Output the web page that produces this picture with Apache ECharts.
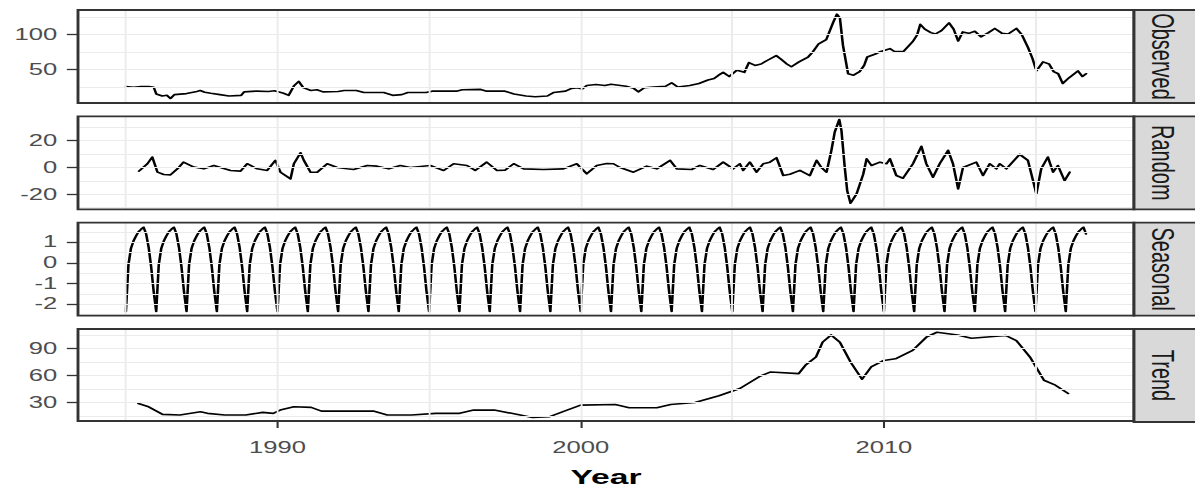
<!DOCTYPE html>
<html>
<head>
<meta charset="utf-8">
<script src="https://cdn.jsdelivr.net/npm/echarts@6/dist/echarts.min.js"></script>
<style>
html, body { margin: 0; padding: 0; background: #fff; overflow: hidden; }
/* the reference picture is stretched sideways, so the chart is drawn narrow and widened */
#chart { position: absolute; left: 0; top: 0; width: 747px; height: 488px; transform: scaleX(1.6); transform-origin: 0 0; }
</style>
</head>
<body>
<div id="chart"></div>
<script>
// observed series [year, value]
var observed = [
    [1985.0, 25.5], [1985.25, 24.5], [1985.5, 25.5], [1985.75, 25.5], [1985.92, 24.5], [1986.0, 15], [1986.2, 12],
    [1986.35, 13], [1986.47, 8.5], [1986.6, 14], [1987.0, 15.5], [1987.3, 18], [1987.45, 20], [1987.6, 17.5],
    [1987.8, 16], [1988.1, 14], [1988.4, 12], [1988.8, 13], [1988.9, 18], [1989.3, 19], [1989.7, 18.5],
    [1989.9, 19.5], [1990.2, 16], [1990.37, 13], [1990.55, 27], [1990.7, 33], [1990.85, 24], [1991.1, 20],
    [1991.3, 21], [1991.5, 18], [1992.0, 18.5], [1992.2, 20], [1992.6, 20], [1992.85, 17], [1993.5, 17],
    [1993.8, 13], [1994.1, 14], [1994.3, 17], [1994.9, 17], [1995.1, 19], [1995.9, 19], [1996.1, 21],
    [1996.7, 21.5], [1996.9, 19], [1997.5, 19], [1997.8, 15], [1998.2, 12], [1998.5, 11], [1998.9, 12],
    [1999.1, 17], [1999.5, 19], [1999.7, 23], [1999.9, 24], [2000.05, 22], [2000.2, 27], [2000.5, 28.5],
    [2000.8, 27], [2001.0, 29], [2001.5, 26], [2001.75, 23], [2001.9, 18], [2002.1, 24], [2002.4, 25],
    [2002.8, 26], [2003.0, 31], [2003.2, 25], [2003.4, 26], [2003.6, 27], [2003.9, 30], [2004.2, 35],
    [2004.4, 37], [2004.55, 42], [2004.7, 46], [2004.9, 40], [2005.15, 49], [2005.4, 46], [2005.55, 60],
    [2005.75, 56], [2005.95, 58], [2006.15, 63], [2006.45, 70], [2006.6, 65], [2006.8, 58], [2006.95, 54],
    [2007.2, 61], [2007.5, 68], [2007.65, 75], [2007.85, 87], [2008.1, 93], [2008.33, 118], [2008.45, 129.5],
    [2008.55, 124], [2008.65, 85], [2008.82, 44], [2009.0, 42], [2009.2, 47], [2009.35, 56], [2009.45, 68],
    [2009.7, 72], [2009.9, 76], [2010.2, 80], [2010.35, 76], [2010.65, 76], [2010.95, 90], [2011.1, 100],
    [2011.2, 115], [2011.35, 108], [2011.55, 103], [2011.7, 101], [2011.9, 106], [2012.15, 117], [2012.3, 108],
    [2012.45, 91], [2012.6, 104], [2012.8, 102], [2013.0, 105], [2013.2, 97], [2013.45, 103], [2013.66, 109],
    [2013.9, 102], [2014.1, 101], [2014.37, 109], [2014.55, 100], [2014.75, 82], [2014.9, 66], [2015.03, 48],
    [2015.25, 61], [2015.45, 58], [2015.6, 47], [2015.75, 44], [2015.9, 30], [2016.1, 38], [2016.4, 48],
    [2016.55, 40], [2016.67, 44]
];

// random (remainder) series [year, value]
var random = [
    [1985.43, -2.7], [1985.71, 2.8], [1985.87, 7.8], [1986.04, -3.5], [1986.25, -5.2], [1986.47, -5.5],
    [1986.7, -1], [1986.9, 4], [1987.24, 0.3], [1987.57, -1], [1987.9, 1.5], [1988.12, 0], [1988.45, -2.2],
    [1988.78, -2.7], [1989.0, 2.8], [1989.33, -1], [1989.66, -2.2], [1989.93, 5.3], [1990.1, -3.5],
    [1990.43, -8.5], [1990.54, 2.8], [1990.76, 11], [1990.87, 5.3], [1991.09, -3.5], [1991.31, -3.5],
    [1991.64, 2.8], [1991.97, 0], [1992.3, -1], [1992.51, -1.5], [1992.96, 1.5], [1993.28, 1], [1993.67, -1],
    [1994.05, 1.5], [1994.38, 0], [1995.04, 1.5], [1995.48, -2.2], [1995.81, 2.8], [1996.25, 1.5],
    [1996.52, -2.2], [1996.9, 4], [1997.24, -2.2], [1997.5, -2], [1997.79, 2.8], [1998.12, -1],
    [1998.77, -1.5], [1999.43, -1], [1999.87, 2.8], [2000.2, -4.7], [2000.53, 1.5], [2000.86, 3],
    [2001.08, 2.8], [2001.3, 0], [2001.74, -3.5], [2002.18, 1], [2002.51, -1], [2002.95, 5.3], [2003.17, -1],
    [2003.66, -1.5], [2003.93, 1.5], [2004.37, -1.5], [2004.7, 4], [2005.03, -1], [2005.25, 2.8],
    [2005.36, -2.2], [2005.58, 4], [2005.8, -3.5], [2006.02, 2.8], [2006.24, 4], [2006.46, 7.3], [2006.68, -6],
    [2006.9, -5], [2007.23, -2.2], [2007.56, -6], [2007.78, 5.3], [2007.94, 0], [2008.11, -3.5],
    [2008.27, 12.8], [2008.38, 26.5], [2008.53, 35.8], [2008.6, 27.8], [2008.71, 0], [2008.79, -17.2],
    [2008.9, -26.7], [2009.1, -19.7], [2009.32, -5], [2009.43, 6.5], [2009.59, 1.5], [2009.87, 4],
    [2010.09, 2.8], [2010.2, 6.5], [2010.41, -6], [2010.63, -8], [2010.96, 2.8], [2011.24, 15.8],
    [2011.4, 2.8], [2011.62, -7.2], [2011.84, 2.8], [2012.12, 12.8], [2012.28, 2.8], [2012.45, -16],
    [2012.61, 0], [2013.05, 4], [2013.27, -6], [2013.49, 2.8], [2013.71, -1], [2013.82, 2.8], [2014.04, -1],
    [2014.48, 9.8], [2014.75, 5.3], [2014.92, -9.8], [2015.03, -19.7], [2015.19, -1], [2015.41, 7.8],
    [2015.58, -3.5], [2015.74, 1.5], [2015.96, -9.8], [2016.13, -3.5]
];

// seasonal component: the same 12 monthly values (Jan..Dec) every year
var seasonalPattern = [-2.35, -0.1, 0.7, 1.05, 1.3, 1.5, 1.62, 1.72, 1.4, 0.75, -0.2, -1.4];
var seasonalFirstYear = 1985;
var seasonalMonths = 381; // Jan 1985 .. Sep 2016

// trend series [year, value]
var trend = [
    [1985.41, 28.9], [1985.75, 25.2], [1986.21, 16.8], [1986.78, 16], [1987.46, 19.7], [1987.69, 17.9],
    [1988.26, 16], [1988.95, 16], [1989.51, 19], [1989.86, 17.9], [1990.09, 21.5], [1990.54, 25.2],
    [1991.11, 24.5], [1991.45, 20.4], [1993.16, 20.4], [1993.62, 16], [1994.42, 16], [1995.22, 17.9],
    [1996.01, 17.9], [1996.47, 21.5], [1997.15, 21.5], [1997.72, 17.9], [1998.41, 13.4], [1998.98, 14.2],
    [1999.55, 21.5], [2000.0, 27], [2001.14, 27.8], [2001.6, 24.1], [2002.51, 24.1], [2002.97, 27.8],
    [2003.77, 30], [2004.56, 37.4], [2005.25, 45.5], [2005.93, 59.4], [2006.27, 63.9], [2007.19, 62],
    [2007.41, 71.2], [2007.76, 80.4], [2007.98, 97], [2008.26, 105], [2008.55, 97], [2008.9, 75],
    [2009.28, 55.8], [2009.58, 69.4], [2010.0, 76.7], [2010.38, 78.5], [2010.95, 87.8], [2011.4, 102.5],
    [2011.75, 108], [2012.43, 105], [2012.89, 101.4], [2014.03, 104.3], [2014.37, 98.8], [2014.82, 80.4],
    [2015.28, 54.7], [2015.62, 49.9], [2016.08, 40]
];

// tick labels and grid line values
var yearTicks = [1990, 2000, 2010];
var yearGrid = [1985, 1990, 1995, 2000, 2005, 2010, 2015];
var obsTicks = [50, 100];
var obsGrid = [25, 50, 75, 100, 125];
var randomTicks = [-20, 0, 20];
var randomGrid = [-30, -20, -10, 0, 10, 20, 30];
var seasonalTicks = [-2, -1, 0, 1];
var seasonalGrid = [-2.5, -2, -1.5, -1, -0.5, 0, 0.5, 1, 1.5];
var trendTicks = [30, 60, 90];
var trendGrid = [15, 30, 45, 60, 75, 90, 105];

var seasonal = [];
for (var k = 0; k < seasonalMonths; k++) {
    seasonal.push([seasonalFirstYear + k / 12, seasonalPattern[k % 12]]);
}

var panels = [
    { name: "Observed", data: observed, min: 2, max: 135.5, ticks: obsTicks, grid: obsGrid },
    { name: "Random", data: random, min: -31.2, max: 38.2, ticks: randomTicks, grid: randomGrid },
    { name: "Seasonal", data: seasonal, min: -2.56, max: 1.94, ticks: seasonalTicks, grid: seasonalGrid },
    { name: "Trend", data: trend, min: 9.4, max: 111.6, ticks: trendTicks, grid: trendGrid },
];

var panelLeft = 48.75;
var panelWidth = 660;
var panelHeight = 93;
var panelTops = [10, 116.3, 222.7, 329];
var labelFont = { color: "#4D4D4D", fontSize: 16, fontFamily: "Liberation Sans" };
var plainNumber = function (v) { return String(v); };

var option = { animation: false, backgroundColor: "#fff", grid: [], xAxis: [], yAxis: [], series: [], graphic: [] };

panels.forEach(function (p, i) {
    var last = i === panels.length - 1;
    option.grid.push({
        left: panelLeft, top: panelTops[i], width: panelWidth, height: panelHeight,
        show: true, borderColor: "#333333", borderWidth: 1.8, backgroundColor: "rgba(0,0,0,0)", z: 10,
    });
    option.xAxis.push({
        type: "value", gridIndex: i, min: 1983.42, max: 2018.25,
        axisLine: { show: false },
        splitLine: { show: false },
        axisTick: { show: last, length: 7, customValues: yearTicks, lineStyle: { color: "#333333", width: 1.3 } },
        axisLabel: Object.assign({ show: last, customValues: yearTicks, margin: 19, formatter: plainNumber }, labelFont),
        name: last ? "Year" : "",
        nameLocation: "middle",
        nameGap: 45,
        nameTextStyle: { color: "#000", fontSize: 21, fontWeight: "bold", fontFamily: "Liberation Sans" },
    });
    option.yAxis.push({
        type: "value", gridIndex: i, min: p.min, max: p.max,
        axisLine: { show: false },
        splitLine: { show: false },
        axisTick: { length: 7, customValues: p.ticks, lineStyle: { color: "#333333", width: 1.3 } },
        axisLabel: Object.assign({ customValues: p.ticks, margin: 13, formatter: plainNumber }, labelFont),
    });
    // grid lines
    option.series.push({
        type: "line", xAxisIndex: i, yAxisIndex: i, data: [], silent: true, z: 1,
        markLine: {
            silent: true, animation: false, symbol: ["none", "none"],
            label: { show: false },
            lineStyle: { color: "#EBEBEB", width: 1.2, type: "solid" },
            emphasis: { disabled: true },
            data: p.grid.map(function (v) { return { yAxis: v }; })
                .concat(yearGrid.map(function (v) { return { xAxis: v }; })),
        },
    });
    option.series.push({
        type: "line", name: p.name, xAxisIndex: i, yAxisIndex: i, data: p.data,
        showSymbol: false, symbol: "none", z: 3,
        lineStyle: { color: "#000", width: 1.6, join: "round", cap: "round" },
    });
    // facet strip on the right
    option.graphic.push({
        type: "rect", z: 20,
        shape: { x: panelLeft + panelWidth, y: panelTops[i], width: 60, height: panelHeight },
        style: { fill: "#D9D9D9", stroke: "#333333", lineWidth: 1.8 },
    });
    option.graphic.push({
        type: "text", z: 21,
        x: panelLeft + panelWidth + 18, y: panelTops[i] + panelHeight / 2,
        rotation: -Math.PI / 2,
        style: { text: p.name, fill: "#1A1A1A", fontSize: 20, fontFamily: "Liberation Sans", align: "center", verticalAlign: "middle" },
    });
});

var myChart = echarts.init(document.getElementById("chart"), null, { renderer: "svg", width: 747, height: 488 });
myChart.setOption(option);
</script>
</body>
</html>
